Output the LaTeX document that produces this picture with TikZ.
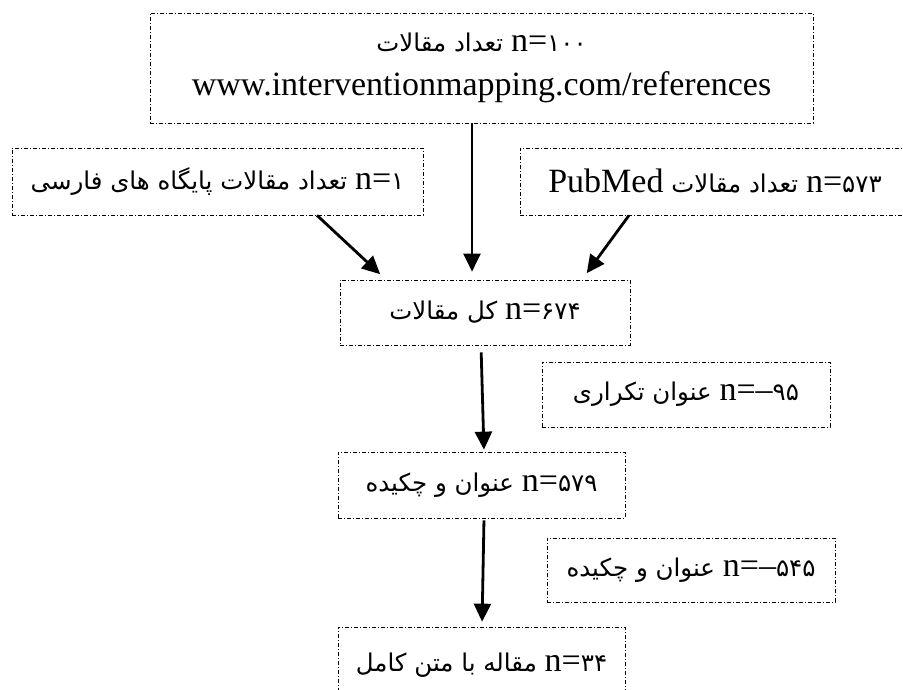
\documentclass[tikz,border=0pt]{standalone}
\usepackage{fontspec}
\setmainfont{Liberation Serif}
\newfontfamily\fa[Script=Arabic,Scale=0.72]{DejaVu Sans}
\usetikzlibrary{arrows.meta}
\TeXXeTstate=1
\newcommand{\nval}[2][]{\beginL{\rmfamily n=#1}{\fa #2}\endL}
\begin{document}
\begin{tikzpicture}%
	[x=1pt, y=-1pt,
	stage/.style={draw=black, line width=0.7pt, dash pattern=on 4pt off 2pt on 1pt off 2pt,
		inner sep=0pt, align=center, font=\fontsize{34}{44}\selectfont},
	flow/.style={line width=2.8pt, -{Triangle[length=18pt,width=17pt]}}]
	%
	\useasboundingbox (0,0) rectangle (903,690);
	\clip (0,0) rectangle (903,690);
	%%
	%% Drawing the boxes
	%%
	\node[stage, minimum width=663pt, minimum height=110pt] (source) at (481.5,68)
		{{\fa\beginR\nval{۱۰۰} تعداد مقالات\endR}\\www.interventionmapping.com/references};
	\node[stage, minimum width=411pt, minimum height=67pt] (farsi) at (217.5,181.5)
		{\fa\beginR\nval{۱} تعداد مقالات پایگاه های فارسی\endR};
	\node[stage, minimum width=390pt, minimum height=67pt] (pubmed) at (715,181.5)
		{\fa\beginR\nval{۵۷۳} تعداد مقالات \beginL{\rmfamily PubMed}\endL\endR};
	\node[stage, minimum width=290pt, minimum height=65pt] (total) at (485,312.5)
		{\fa\beginR\nval{۶۷۴} کل مقالات\endR};
	\node[stage, minimum width=288pt, minimum height=65pt] (dupes) at (686,394.5)
		{\fa\beginR\nval[–]{۹۵} عنوان تکراری\endR};
	\node[stage, minimum width=287pt, minimum height=66pt] (screen) at (481.5,485)
		{\fa\beginR\nval{۵۷۹} عنوان و چکیده\endR};
	\node[stage, minimum width=288pt, minimum height=64pt] (excluded) at (691,570)
		{\fa\beginR\nval[–]{۵۴۵} عنوان و چکیده\endR};
	\node[stage, minimum width=287pt, minimum height=76pt] (fulltext) at (481.5,665)
		{\fa\beginR\nval{۳۴} مقاله با متن کامل\endR};
	%%
	%% Drawing the arrows
	%%
	\draw[flow, shorten >=8pt] ([xshift=-9.5pt]source.south) -- ([xshift=-13pt]total.north);
	\draw[flow, shorten >=8pt] ([xshift=99.5pt]farsi.south) -- ([xshift=-99pt]total.north);
	\draw[flow, shorten >=8pt] ([xshift=-86pt]pubmed.south) -- ([xshift=97pt]total.north);
	\draw[flow, shorten <=7pt, shorten >=2pt] ([xshift=-4pt]total.south) -- ([xshift=2.5pt]screen.north);
	\draw[flow, shorten <=2pt, shorten >=5pt] ([xshift=2.5pt]screen.south) -- ([xshift=0.5pt]fulltext.north);
	%%
\end{tikzpicture}
\end{document}
